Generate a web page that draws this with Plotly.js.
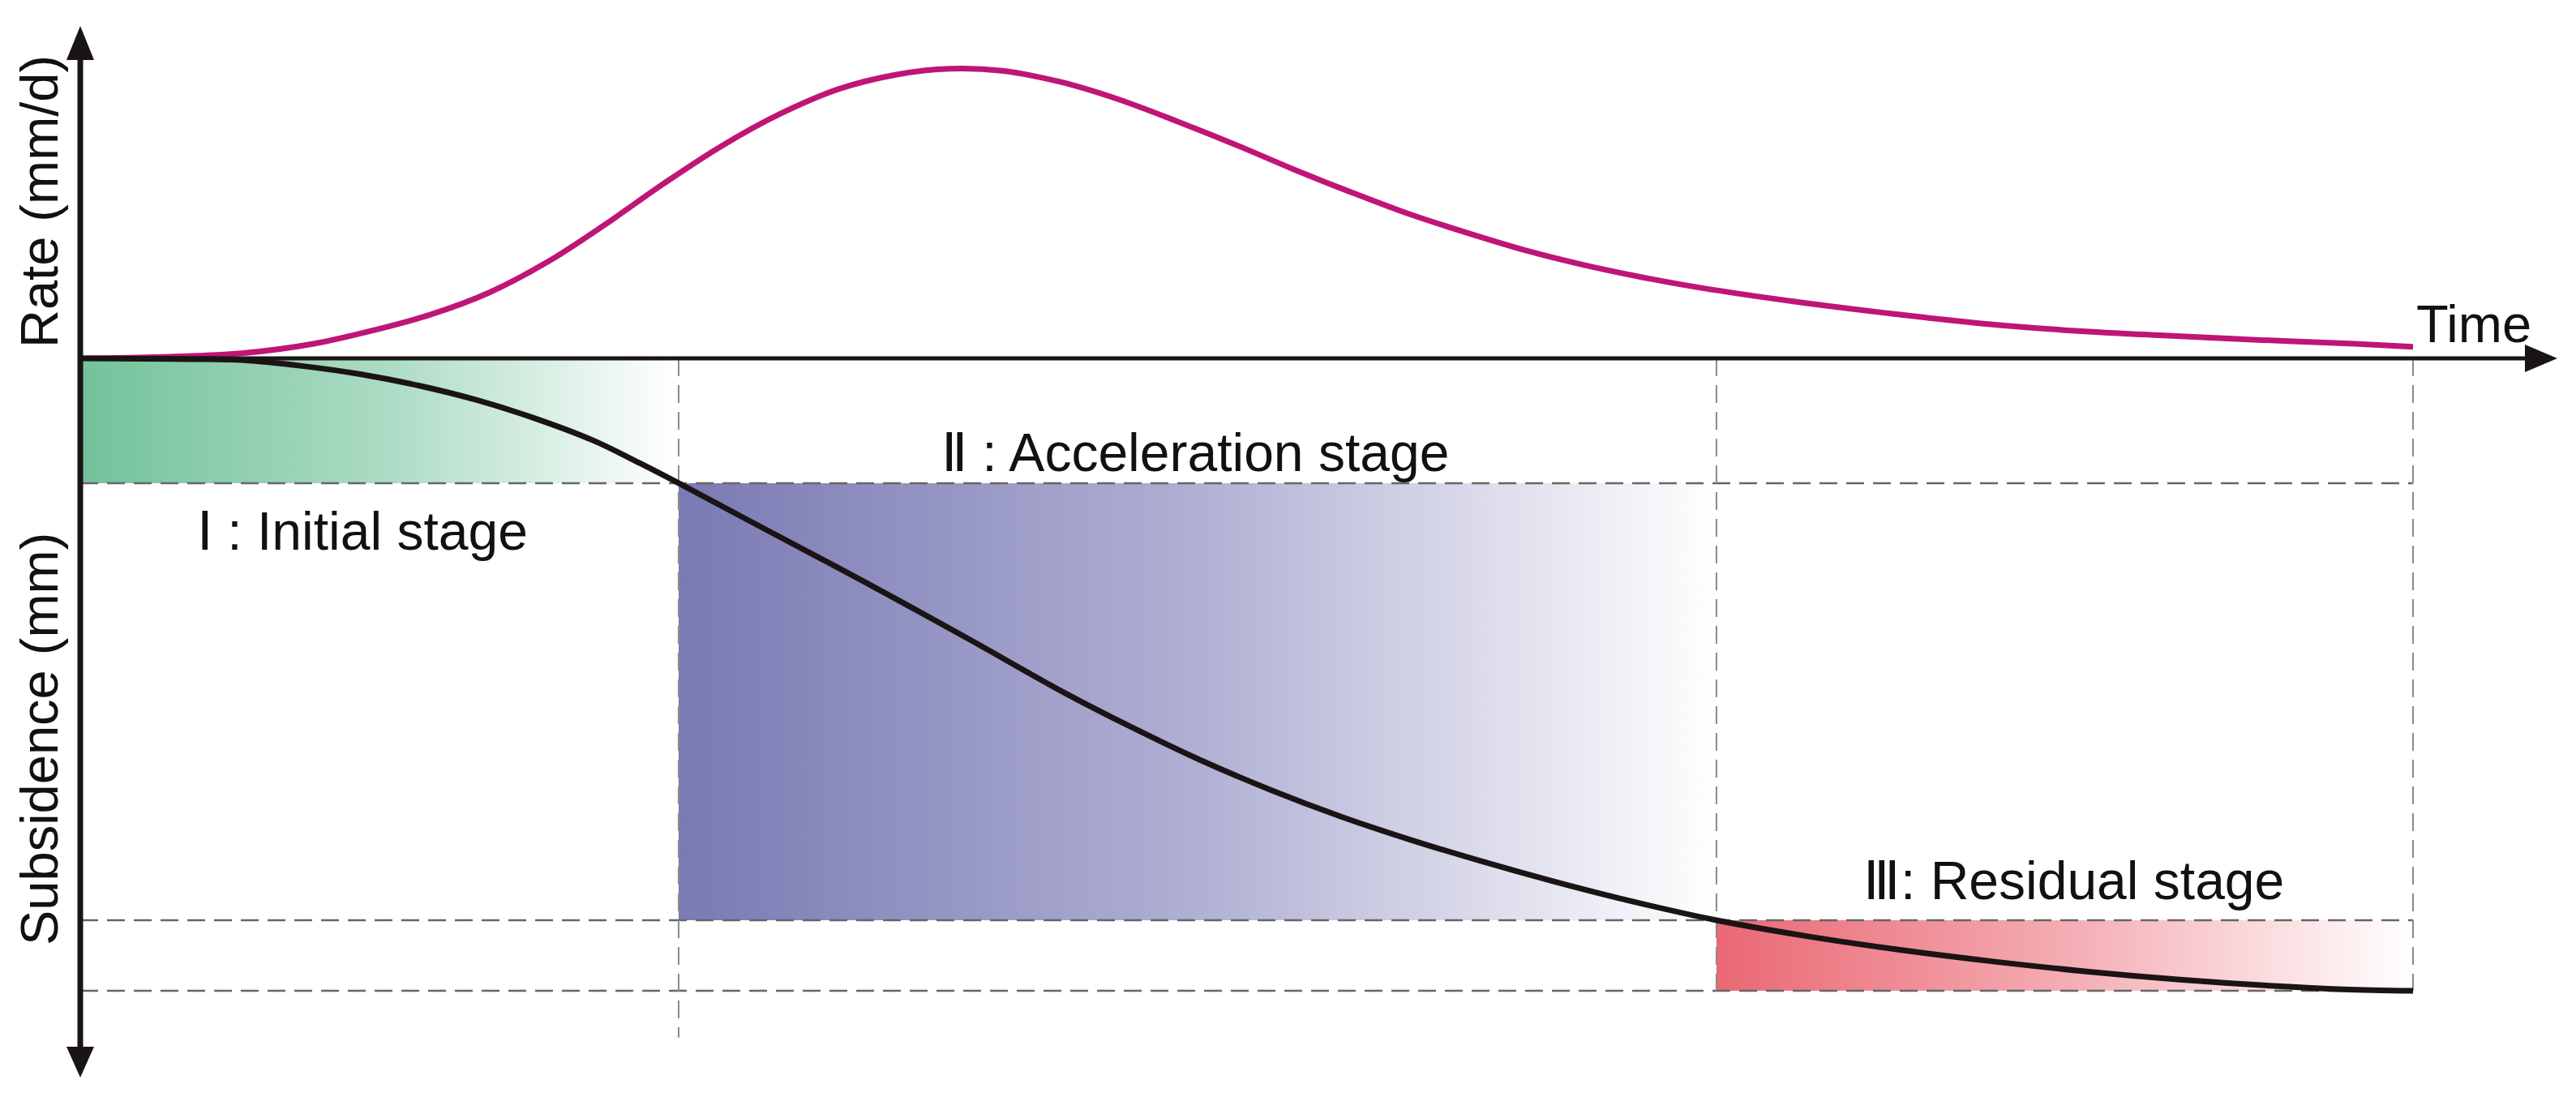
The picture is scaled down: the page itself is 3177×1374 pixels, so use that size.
<!DOCTYPE html>
<html><head><meta charset="utf-8">
<script src="https://cdn.plot.ly/plotly-3.0.1.min.js"></script>
<style>html,body{margin:0;padding:0;background:#fff;}#chart{width:3177px;height:1374px;}</style>
</head><body><div id="chart"></div>
<script>
// ---------------- data (arbitrary units) ----------------
const rateTime = [0, 3.5, 7.0, 10.0, 12.5, 15.0, 17.5, 20.0, 22.5, 25.0, 27.5, 30.0, 32.5, 35.0, 37.3, 39.5, 42.0, 44.5, 47.0, 49.5, 52.0, 54.5, 57.0, 59.5, 62.0, 64.5, 67.0, 69.5, 73.5, 77.5, 81.5, 85.5, 89.5, 93.5, 97.5, 100];
const rate = [0, 0.05, 0.18, 0.5, 0.95, 1.5, 2.25, 3.3, 4.6, 6.0, 7.3, 8.4, 9.25, 9.75, 9.95, 9.88, 9.5, 8.9, 8.15, 7.35, 6.5, 5.7, 4.95, 4.3, 3.7, 3.2, 2.78, 2.42, 1.95, 1.55, 1.2, 0.95, 0.78, 0.63, 0.5, 0.4];
const subsTime = [0, 4, 7, 9.5, 12, 14.5, 17, 19.5, 22, 24, 25.65, 29.2, 33.6, 38.0, 42.2, 45, 48, 51, 54, 57, 60, 63, 66, 70.14, 74, 78, 82, 86, 90, 94, 97, 100];
const subsidence = [0, 0.1, 0.3, 1.2, 2.5, 4.3, 6.6, 9.5, 13.0, 16.6, 19.74, 26.7, 35.3, 44.2, 52.9, 58.2, 63.5, 68.2, 72.4, 76.1, 79.45, 82.55, 85.4, 88.85, 91.36, 93.53, 95.37, 96.95, 98.24, 99.23, 99.76, 100];
const stageNames = ['Ⅰ : Initial stage', 'Ⅱ : Acceleration stage', 'Ⅲ: Residual stage'];
const stageTimes = [0, 25.65, 70.14, 100];
const stageSubs = [0, 19.74, 88.85, 100];
const stageColors = ['rgb(114,194,154)', 'rgb(122,122,180)', 'rgb(234,104,116)'];
const stageMidColors = ['rgb(170,219,195)', 'rgb(176,176,212)', 'rgb(244,172,179)'];
const rateTitle = 'Rate (mm/d)';
const subsTitle = 'Subsidence (mm)';
const timeTitle = 'Time';

// ---------------- layout geometry (pixels) ----------------
const W = 3177, H = 1374;
const OX = 99, OY = 442;          // origin of the axes
const PX_T = 28.77, PX_R = 35.9, PX_S = 7.8;
const px = p => p / W;            // pixel -> paper x
const py = p => 1 - p / H;        // pixel -> paper y

const traces = [];
// stage gradient boxes
for (let i = 0; i < 3; i++) {
  const t0 = stageTimes[i], t1 = stageTimes[i + 1], s0 = stageSubs[i], s1 = stageSubs[i + 1];
  traces.push({
    x: [t0, t1, t1, t0, t0], y: [s0, s0, s1, s1, s0], yaxis: 'y2',
    type: 'scatter', mode: 'lines', line: {width: 0}, fill: 'toself',
    fillgradient: {type: 'horizontal', colorscale: [[0, stageColors[i]], [0.5, stageMidColors[i]], [1, 'rgb(255,255,255)']]},
    hoverinfo: 'skip', showlegend: false
  });
}
// dashed guide lines
const dashH = {color: '#666', width: 2.5, dash: '22px,11px'};
const dashV = {color: '#8a8a8a', width: 2, dash: '22px,11px'};
[stageSubs[1], stageSubs[2], stageSubs[3]].forEach(s => traces.push({
  x: [0, stageTimes[3]], y: [s, s], yaxis: 'y2', type: 'scatter', mode: 'lines', line: dashH, hoverinfo: 'skip', showlegend: false
}));
traces.push({x: [stageTimes[1], stageTimes[1]], y: [0, 107.4], yaxis: 'y2', type: 'scatter', mode: 'lines', line: dashV, hoverinfo: 'skip', showlegend: false});
traces.push({x: [stageTimes[2], stageTimes[2]], y: [0, stageSubs[3]], yaxis: 'y2', type: 'scatter', mode: 'lines', line: dashV, hoverinfo: 'skip', showlegend: false});
traces.push({x: [stageTimes[3], stageTimes[3]], y: [0, stageSubs[3]], yaxis: 'y2', type: 'scatter', mode: 'lines', line: dashV, hoverinfo: 'skip', showlegend: false});
// curves
traces.push({x: subsTime, y: subsidence, yaxis: 'y2', type: 'scatter', mode: 'lines',
  line: {color: '#1b1414', width: 7, shape: 'spline', smoothing: 1}, hoverinfo: 'skip', showlegend: false});
traces.push({x: rateTime, y: rate, yaxis: 'y', type: 'scatter', mode: 'lines',
  line: {color: '#BF1577', width: 7, shape: 'spline', smoothing: 1}, hoverinfo: 'skip', showlegend: false});

const hidden = {visible: false, showgrid: false, zeroline: false, fixedrange: true};
const labelFont = {family: 'Liberation Sans, Arial, sans-serif', size: 66, color: '#111'};
const axisFont = {family: 'Liberation Sans, Arial, sans-serif', size: 65, color: '#111'};
const layout = {
  width: W, height: H, margin: {l: 0, r: 0, t: 0, b: 0},
  paper_bgcolor: '#fff', plot_bgcolor: '#fff', showlegend: false,
  xaxis: Object.assign({range: [-OX / PX_T, (W - OX) / PX_T]}, hidden),
  yaxis: Object.assign({range: [(OY - H) / PX_R, OY / PX_R]}, hidden),
  yaxis2: Object.assign({overlaying: 'y', range: [(H - OY) / PX_S, -OY / PX_S]}, hidden),
  shapes: [
    // vertical axis
    {type: 'line', xref: 'paper', yref: 'paper', x0: px(OX), x1: px(OX), y0: py(60), y1: py(1300), line: {color: '#1b1414', width: 7}, layer: 'above'},
    {type: 'path', xref: 'paper', yref: 'paper', path: `M ${px(OX)} ${py(32)} L ${px(OX - 17)} ${py(74)} L ${px(OX + 17)} ${py(74)} Z`, fillcolor: '#1b1414', line: {width: 0}, layer: 'above'},
    {type: 'path', xref: 'paper', yref: 'paper', path: `M ${px(OX)} ${py(1329)} L ${px(OX - 17)} ${py(1291)} L ${px(OX + 17)} ${py(1291)} Z`, fillcolor: '#1b1414', line: {width: 0}, layer: 'above'},
    // horizontal axis
    {type: 'line', xref: 'paper', yref: 'paper', x0: px(OX), x1: px(3125), y0: py(OY), y1: py(OY), line: {color: '#1b1414', width: 5}, layer: 'above'},
    {type: 'path', xref: 'paper', yref: 'paper', path: `M ${px(3154)} ${py(OY)} L ${px(3114)} ${py(OY - 17)} L ${px(3114)} ${py(OY + 17)} Z`, fillcolor: '#1b1414', line: {width: 0}, layer: 'above'}
  ],
  annotations: [
    {text: rateTitle, xref: 'paper', yref: 'paper', x: px(48), y: py(249), textangle: -90, showarrow: false,
      xanchor: 'center', yanchor: 'middle', font: axisFont},
    {text: subsTitle, xref: 'paper', yref: 'paper', x: px(48), y: py(912), textangle: -90, showarrow: false,
      xanchor: 'center', yanchor: 'middle', font: axisFont},
    {text: timeTitle, xref: 'paper', yref: 'paper', x: px(2978), y: py(400), showarrow: false,
      xanchor: 'left', yanchor: 'middle', font: axisFont},
    {text: stageNames[0], xref: 'paper', yref: 'paper', x: px(447), y: py(655), showarrow: false,
      xanchor: 'center', yanchor: 'middle', font: labelFont},
    {text: stageNames[1], xref: 'paper', yref: 'paper', x: px(1474), y: py(558), showarrow: false,
      xanchor: 'center', yanchor: 'middle', font: labelFont},
    {text: stageNames[2], xref: 'paper', yref: 'paper', x: px(2557), y: py(1086), showarrow: false,
      xanchor: 'center', yanchor: 'middle', font: labelFont}
  ]
};
Plotly.newPlot('chart', traces, layout, {staticPlot: true, displayModeBar: false});
</script>
</body></html>
